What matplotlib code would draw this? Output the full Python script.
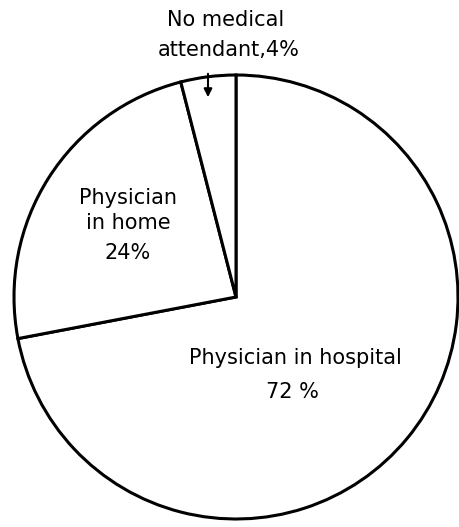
import matplotlib.pyplot as plt

# Slice data (percent), clockwise from 12 o'clock
labels = ['Physician in hospital', 'Physician in home', 'No medical attendant']
shares = [72, 24, 4]

fig = plt.figure(figsize=(4.6, 5.27), dpi=100)
ax = fig.add_axes([0, 0, 1, 1])

# pie in pixel-like coordinates so the layout matches the page
ax.pie(shares, startangle=90, counterclock=False, center=(236, 230), radius=222,
       colors=['white'] * len(shares),
       wedgeprops=dict(edgecolor='black', linewidth=2.2))
ax.set_xlim(0, 460)
ax.set_ylim(0, 527)
ax.set_aspect('equal')
ax.axis('off')

font = dict(family='DejaVu Sans', fontsize=15, color='black', ha='center', va='center')
ax.text(226, 507, 'No medical', **font)
ax.text(229, 477, 'attendant,%d%%' % shares[2], **font)
ax.annotate('', xy=(208, 427), xytext=(208, 456),
            arrowprops=dict(arrowstyle='-|>', color='black', lw=1.5, mutation_scale=12))

ax.text(128, 329, 'Physician', **font)
ax.text(128, 304, 'in home', **font)
ax.text(128, 274, '%d%%' % shares[1], **font)

ax.text(295, 169, labels[0], **font)
ax.text(292, 135, '%d %%' % shares[0], **font)

fig.savefig('out.png', dpi=100)
